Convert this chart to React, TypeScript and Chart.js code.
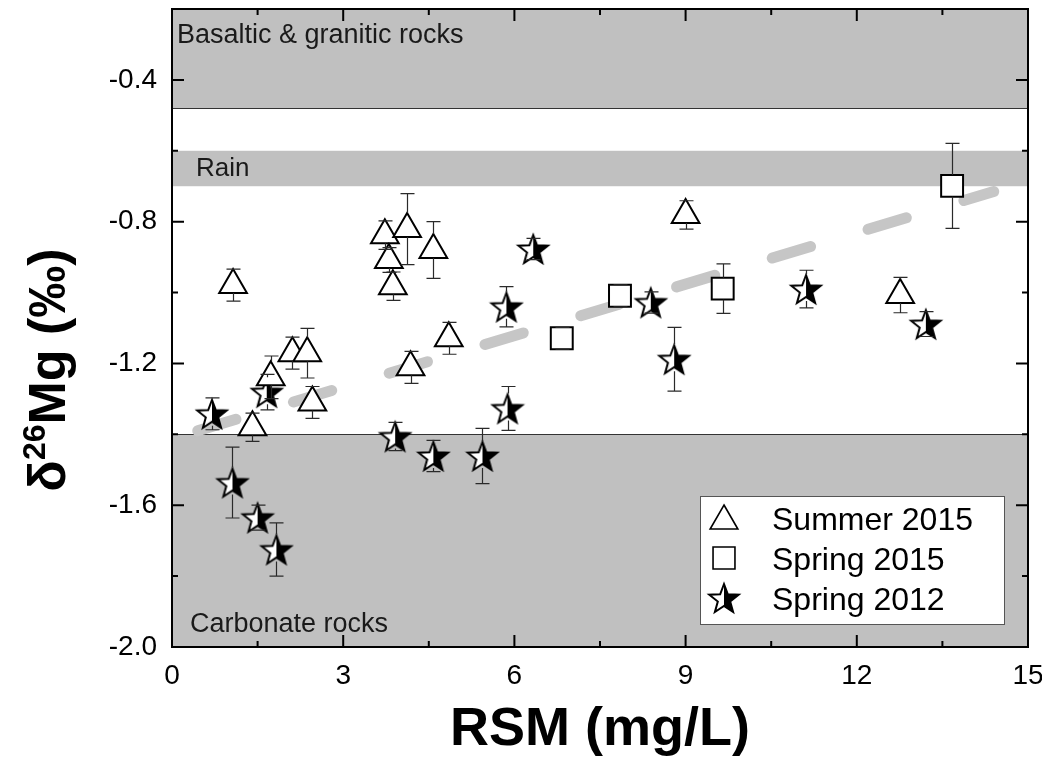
import React, { useEffect, useRef } from 'react';
import { Chart, registerables } from 'chart.js';

Chart.register(...registerables);

// ---- Data ----
const summerX = [1.07, 2.11, 2.37, 1.73, 2.46, 1.41, 3.73, 4.12, 4.58, 3.80, 3.87, 4.85, 4.18, 9.0, 12.76];
const summerY = [-0.979, -1.171, -1.171, -1.239, -1.31, -1.38, -0.838, -0.821, -0.88, -0.908, -0.982, -1.129, -1.211, -0.781, -1.007];
const summerErr = [0.045, 0.045, 0.07, 0.06, 0.045, 0.04, 0.04, 0.1, 0.08, 0.035, 0.04, 0.045, 0.045, 0.04, 0.05];

const spring15X = [6.83, 7.85, 9.65, 13.67];
const spring15Y = [-1.129, -1.009, -0.989, -0.699];
const spring15Err = [0.031, 0.031, 0.07, 0.12];

const spring12X = [0.7, 1.66, 5.86, 5.88, 3.91, 1.06, 1.5, 1.83, 4.58, 5.44, 6.33, 8.39, 8.8, 11.11, 13.21];
const spring12Y = [-1.342, -1.281, -1.04, -1.327, -1.406, -1.536, -1.635, -1.725, -1.461, -1.461, -0.877, -1.028, -1.188, -0.99, -1.089];
const spring12Err = [0.045, 0.05, 0.057, 0.062, 0.04, 0.1, 0.035, 0.075, 0.044, 0.078, 0.03, 0.03, 0.09, 0.053, 0.035];

const trendX = [0.45, 14.4];
const trendY = [-1.39, -0.715];

const bandLabels = ['Basaltic & granitic rocks', 'Rain', 'Carbonate rocks'];
const bandLow = [-0.48, -0.7, -2.0];
const bandHigh = [-0.2, -0.6, -1.4];

const xMajorTicks = [0, 3, 6, 9, 12, 15];
const xMinorTicks = [1.5, 4.5, 7.5, 10.5, 13.5];
const yMajorTicks = [-2.0, -1.6, -1.2, -0.8, -0.4];
const yMinorTicks = [-1.8, -1.4, -1.0, -0.6];

const seriesLabels = ['Summer 2015', 'Spring 2015', 'Spring 2012'];
const xTitle = 'RSM (mg/L)';

const FONT = '"Liberation Sans", Arial, Helvetica, sans-serif';

function makeStar(): HTMLCanvasElement {
  const size = 36;
  const c = document.createElement('canvas');
  c.width = size;
  c.height = size;
  const ctx = c.getContext('2d')!;
  const R = 15.5;
  const r = R * 0.42;
  const cx = size / 2;
  const cy = size / 2 + 1.5;
  ctx.beginPath();
  for (let i = 0; i < 10; i++) {
    const a = -Math.PI / 2 + (i * Math.PI) / 5;
    const rad = i % 2 === 0 ? R : r;
    const px = cx + rad * Math.cos(a);
    const py = cy + rad * Math.sin(a);
    if (i === 0) ctx.moveTo(px, py);
    else ctx.lineTo(px, py);
  }
  ctx.closePath();
  ctx.fillStyle = '#fff';
  ctx.fill();
  ctx.save();
  ctx.clip();
  ctx.fillStyle = '#000';
  ctx.fillRect(cx, 0, size, size);
  ctx.restore();
  ctx.lineWidth = 2;
  ctx.lineJoin = 'miter';
  ctx.strokeStyle = '#000';
  ctx.stroke();
  return c;
}

function drawMarker(ctx: CanvasRenderingContext2D, style: any, x: number, y: number, r: number, lw: number) {
  if (style instanceof HTMLCanvasElement) {
    ctx.drawImage(style, x - style.width / 2, y - style.height / 2);
    return;
  }
  ctx.beginPath();
  if (style === 'triangle') {
    for (let k = 0; k < 3; k++) {
      const a = (k * 2 * Math.PI) / 3;
      const px = x + Math.sin(a) * r;
      const py = y - Math.cos(a) * r;
      if (k === 0) ctx.moveTo(px, py);
      else ctx.lineTo(px, py);
    }
    ctx.closePath();
  } else {
    const s = r * Math.SQRT1_2;
    ctx.rect(x - s, y - s, 2 * s, 2 * s);
  }
  ctx.fillStyle = '#fff';
  ctx.fill();
  ctx.lineWidth = lw;
  ctx.strokeStyle = '#000';
  ctx.stroke();
}

const decorPlugin = {
  id: 'decor',
  beforeDatasetsDraw(chart: any) {
    const { ctx, chartArea: ca, scales } = chart;
    const ys = scales.y;
    ctx.save();
    // bands
    ctx.fillStyle = '#c0c0c0';
    for (let i = 0; i < bandLabels.length; i++) {
      const yt = ys.getPixelForValue(bandHigh[i]);
      const yb = ys.getPixelForValue(bandLow[i]);
      ctx.fillRect(ca.left, yt, ca.right - ca.left, yb - yt);
    }
    // boundary lines
    ctx.strokeStyle = '#333';
    ctx.lineWidth = 1.2;
    const b1 = Math.round(ys.getPixelForValue(bandLow[0])) + 0.5;
    const b2 = Math.round(ys.getPixelForValue(bandHigh[2])) + 0.5;
    ctx.beginPath();
    ctx.moveTo(ca.left, b1);
    ctx.lineTo(ca.right, b1);
    ctx.moveTo(ca.left, b2);
    ctx.lineTo(ca.right, b2);
    ctx.stroke();
    // band labels
    ctx.fillStyle = '#1a1a1a';
    ctx.font = `27px ${FONT}`;
    ctx.textAlign = 'left';
    ctx.textBaseline = 'alphabetic';
    ctx.fillText(bandLabels[0], ca.left + 5, ys.getPixelForValue(bandHigh[0]) + 34);
    ctx.font = `26px ${FONT}`;
    ctx.fillText(bandLabels[1], ca.left + 24, ys.getPixelForValue(bandHigh[1]) + 25);
    ctx.font = `27px ${FONT}`;
    ctx.fillText(bandLabels[2], ca.left + 18, ys.getPixelForValue(bandLow[2]) - 15);
    ctx.restore();
  },
  afterDatasetsDraw(chart: any) {
    const { ctx, chartArea: ca, scales } = chart;
    const xs = scales.x;
    const ys = scales.y;
    ctx.save();
    // error bars
    ctx.strokeStyle = '#2a2a2a';
    ctx.lineWidth = 1.2;
    chart.data.datasets.forEach((ds: any, di: number) => {
      const errs = ds.yErr;
      if (!errs) return;
      const ext = ds.markerExt;
      const meta = chart.getDatasetMeta(di);
      meta.data.forEach((pt: any, i: number) => {
        const v = ds.data[i];
        const px = Math.round(pt.x) + 0.5;
        const py = pt.y;
        const yTop = ys.getPixelForValue(v.y + errs[i]);
        const yBot = ys.getPixelForValue(v.y - errs[i]);
        ctx.beginPath();
        if (py - yTop > ext[0]) {
          ctx.moveTo(px, yTop);
          ctx.lineTo(px, py - ext[0]);
        }
        if (yBot - py > ext[1]) {
          ctx.moveTo(px, py + ext[1]);
          ctx.lineTo(px, yBot);
        }
        ctx.moveTo(px - 7, yTop);
        ctx.lineTo(px + 7, yTop);
        ctx.moveTo(px - 7, yBot);
        ctx.lineTo(px + 7, yBot);
        ctx.stroke();
      });
    });

    // frame
    ctx.strokeStyle = '#000';
    ctx.lineWidth = 2;
    ctx.strokeRect(ca.left, ca.top, ca.right - ca.left, ca.bottom - ca.top);

    // ticks (inside)
    ctx.beginPath();
    const tick = (vals: number[], len: number) => {
      vals.forEach((v) => {
        const x = xs.getPixelForValue(v);
        ctx.moveTo(x, ca.bottom);
        ctx.lineTo(x, ca.bottom - len);
        ctx.moveTo(x, ca.top);
        ctx.lineTo(x, ca.top + len);
      });
    };
    tick(xMajorTicks, 12);
    tick(xMinorTicks, 6);
    const ytick = (vals: number[], len: number) => {
      vals.forEach((v) => {
        const y = ys.getPixelForValue(v);
        ctx.moveTo(ca.left, y);
        ctx.lineTo(ca.left + len, y);
        ctx.moveTo(ca.right, y);
        ctx.lineTo(ca.right - len, y);
      });
    };
    ytick(yMajorTicks, 12);
    ytick(yMinorTicks, 6);
    ctx.stroke();

    // legend
    const bw = 304;
    const bh = 128;
    const bx = ca.right - 24 - bw;
    const by = ca.bottom - 23 - bh;
    ctx.fillStyle = '#fff';
    ctx.fillRect(bx, by, bw, bh);
    ctx.strokeStyle = '#555';
    ctx.lineWidth = 1;
    ctx.strokeRect(bx + 0.5, by + 0.5, bw, bh);
    const legendDs = chart.data.datasets.filter((d: any) => d.yErr);
    legendDs.forEach((d: any, i: number) => {
      const cy = by + 22 + i * 40;
      drawMarker(ctx, d.pointStyle, bx + 24, cy + (d.pointStyle === 'triangle' ? 3 : 0), d.pointStyle === 'triangle' ? 16 : 15.5, 1.6);
      ctx.fillStyle = '#000';
      ctx.font = `32px ${FONT}`;
      ctx.textAlign = 'left';
      ctx.textBaseline = 'alphabetic';
      ctx.fillText(d.label, bx + 72, cy + 12);
    });
    ctx.restore();
  },
  afterDraw(chart: any) {
    const { ctx, chartArea: ca } = chart;
    ctx.save();
    ctx.fillStyle = '#000';
    // x title
    ctx.font = `bold 54px ${FONT}`;
    ctx.textAlign = 'center';
    ctx.textBaseline = 'alphabetic';
    ctx.fillText(xTitle, (ca.left + ca.right) / 2, 737);
    // y title with superscript
    const big = `bold 52px ${FONT}`;
    const small = `bold 32px ${FONT}`;
    const parts: [string, string, number][] = [
      ['δ', big, 0],
      ['26', small, -20],
      ['Mg (‰)', big, 0],
    ];
    let total = 0;
    const widths = parts.map(([t, f]) => {
      ctx.font = f;
      const w = ctx.measureText(t).width;
      total += w;
      return w;
    });
    ctx.translate(57, 362);
    ctx.rotate(-Math.PI / 2);
    let x = -total / 2;
    ctx.textAlign = 'left';
    parts.forEach(([t, f, dy], i) => {
      ctx.font = f;
      ctx.fillText(t, x, dy);
      x += widths[i];
    });
    ctx.restore();
  },
};

function zeroPad(s: any) {
  s.paddingTop = 0;
  s.paddingBottom = 0;
  s.paddingLeft = 0;
  s.paddingRight = 0;
}

export default function App() {
  const ref = useRef<HTMLCanvasElement>(null);
  useEffect(() => {
    const canvas = ref.current!;
    const star = makeStar();
    Chart.defaults.font.family = FONT;
    const chart = new Chart(canvas, {
      type: 'scatter',
      data: {
        datasets: [
          {
            label: seriesLabels[0],
            data: summerX.map((x, i) => ({ x, y: summerY[i] })),
            pointStyle: 'triangle',
            pointRadius: 16,
            pointHoverRadius: 16,
            pointBackgroundColor: '#fff',
            pointBorderColor: '#000',
            pointBorderWidth: 2,
            order: 1,
            yErr: summerErr,
            markerExt: [16, 8],
          } as any,
          {
            label: seriesLabels[1],
            data: spring15X.map((x, i) => ({ x, y: spring15Y[i] })),
            pointStyle: 'rect',
            pointRadius: 15.5,
            pointHoverRadius: 15.5,
            pointBackgroundColor: '#fff',
            pointBorderColor: '#000',
            pointBorderWidth: 2,
            order: 1,
            yErr: spring15Err,
            markerExt: [11, 11],
          } as any,
          {
            label: seriesLabels[2],
            data: spring12X.map((x, i) => ({ x, y: spring12Y[i] })),
            pointStyle: star,
            pointRadius: 15,
            pointHoverRadius: 15,
            order: 1,
            yErr: spring12Err,
            markerExt: [15, 12],
          } as any,
          {
            type: 'line',
            label: 'trend',
            data: trendX.map((x, i) => ({ x, y: trendY[i] })),
            borderColor: '#c6c6c6',
            borderWidth: 11,
            borderDash: [40, 60],
            borderCapStyle: 'round',
            pointRadius: 0,
            showLine: true,
            fill: false,
            order: 10,
          } as any,
        ],
      },
      options: {
        animation: false,
        responsive: true,
        maintainAspectRatio: false,
        devicePixelRatio: 1,
        events: [],
        layout: { autoPadding: false, padding: { top: 1, right: 14, left: 0, bottom: 0 } },
        plugins: { legend: { display: false }, tooltip: { enabled: false } },
        scales: {
          x: {
            type: 'linear',
            min: 0,
            max: 15,
            grid: { display: false, drawTicks: false },
            border: { display: false },
            afterBuildTicks: (axis: any) => {
              axis.ticks = xMajorTicks.map((v) => ({ value: v }));
            },
            afterFit: (s: any) => {
              s.height = 119;
              zeroPad(s);
            },
            ticks: {
              padding: 12,
              color: '#000',
              font: { size: 28, family: FONT },
              maxRotation: 0,
              autoSkip: false,
              callback: (v: any) => String(v),
            },
          },
          y: {
            type: 'linear',
            min: -2.0,
            max: -0.2,
            grid: { display: false, drawTicks: false },
            border: { display: false },
            afterBuildTicks: (axis: any) => {
              axis.ticks = yMajorTicks.map((v) => ({ value: v }));
            },
            afterFit: (s: any) => {
              s.width = 164;
              zeroPad(s);
            },
            ticks: {
              padding: 15,
              color: '#000',
              font: { size: 28, family: FONT },
              autoSkip: false,
              callback: (v: any) => Number(v).toFixed(1),
            },
          },
        },
      },
      plugins: [decorPlugin],
    });
    return () => chart.destroy();
  }, []);
  return (
    <div style={{ position: 'relative', width: 1034, height: 758 }}>
      <canvas ref={ref} />
    </div>
  );
}
